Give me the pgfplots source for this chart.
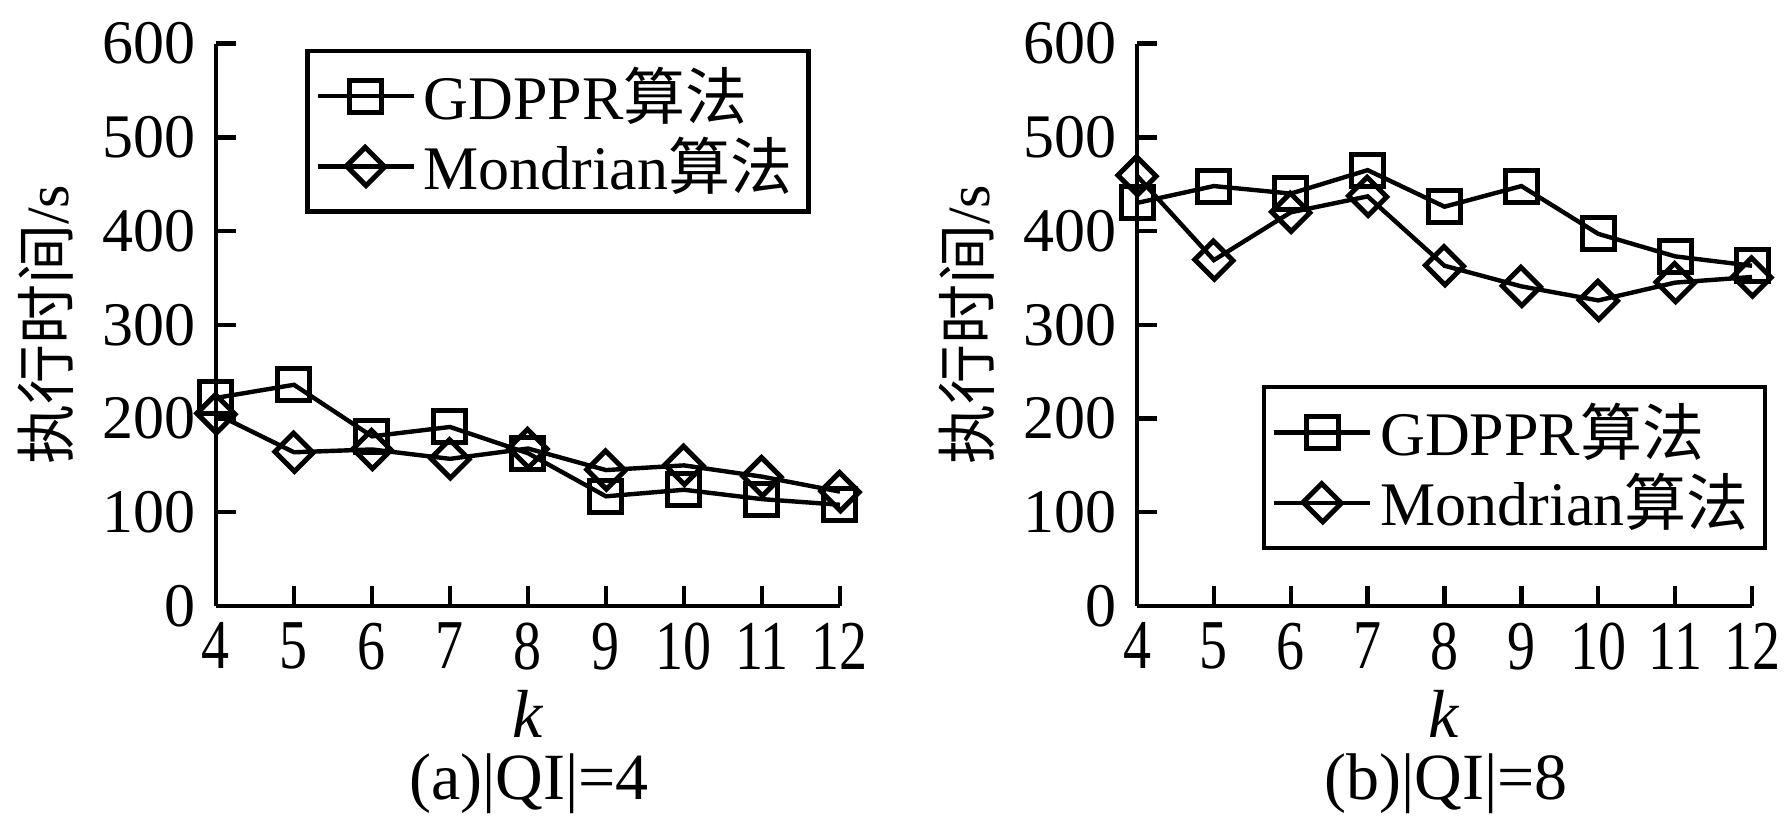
\documentclass[border=0pt]{standalone}
\usepackage{fontspec}
\setmainfont{Liberation Serif}
\newfontfamily\cjk{Noto Sans CJK SC}
\newfontfamily\xtickfont{Liberation Serif}[FakeStretch=0.8]
\usepackage{pgfplots}
\pgfplotsset{compat=1.18}
\pgfplotsset{
  myax/.style={
    scale only axis,
    width=#1,
    height=140.6pt,
    xmin=4, xmax=12, ymin=0, ymax=600,
    axis x line*=bottom, axis y line*=left,
    axis line style={line width=1.1pt,-},
    every tick/.style={line width=1.1pt,black},
    tick align=inside,
    major tick length=5pt,
    xtick={4,...,12},
    ytick={0,100,...,600},
    /pgf/number format/assume math mode=true,
    yticklabel style={font=\fontsize{15.5}{15.5}\selectfont, inner sep=1pt, xshift=-4pt},
    xticklabel style={font=\xtickfont\fontsize{17.5}{17.5}\selectfont, inner sep=2pt, yshift=-2pt},
    xlabel={\textit{k}},
    xlabel style={font=\fontsize{17}{17}\selectfont, at={(axis description cs:0.5,0)}, anchor=center, yshift=-27pt},
    ylabel={{\cjk 执行时间}/s},
    ylabel style={font=\fontsize{15}{15}\selectfont, at={(axis description cs:0,0.5)}, anchor=center, yshift=42.5pt},
    legend style={draw=black, line width=1.1pt, font=\fontsize{15.5}{15.5}\selectfont, inner xsep=2pt, inner ysep=2pt, row sep=-1pt, cells={anchor=west}},
    legend image code/.code={\draw[mark repeat=2,mark phase=2] plot coordinates {(0pt,0pt) (12pt,0pt) (24pt,0pt)};},
    clip=false,
  },
  sq/.style={black, line width=1.1pt, mark=square, mark size=4pt, mark options={line width=1.25pt, fill=none}},
  dm/.style={black, line width=1.1pt, mark=square, mark size=3.3pt, mark options={rotate=45, yscale=1.05, line width=1.25pt, fill=none}},
}
\begin{document}
\begin{tikzpicture}
\useasboundingbox (0,0) rectangle (446.75pt,205.75pt);
\begin{axis}[myax=156pt, at={(54pt,54.25pt)}, anchor=south west,
  legend style={at={(axis description cs:0.143,0.991)}, anchor=north west}]
\addplot[sq] coordinates {(4,222) (5,236) (6,181) (7,191) (8,163) (9,117) (10,124) (11,114) (12,108)};
\addlegendentry{GDPPR{\cjk 算法}}
\addplot[dm] coordinates {(4,205) (5,164) (6,167) (7,157) (8,168) (9,145) (10,150) (11,138) (12,122)};
\addlegendentry{Mondrian{\cjk 算法}}
\end{axis}
\begin{axis}[myax=153.75pt, at={(284.25pt,54.25pt)}, anchor=south west,
  legend style={at={(axis description cs:0.203,0.393)}, anchor=north west}]
\addplot[sq] coordinates {(4,430) (5,448) (6,440) (7,465) (8,426) (9,448) (10,397) (11,373) (12,363)};
\addlegendentry{GDPPR{\cjk 算法}}
\addplot[dm] coordinates {(4,459) (5,369) (6,420) (7,437) (8,363) (9,341) (10,326) (11,345) (12,351)};
\addlegendentry{Mondrian{\cjk 算法}}
\end{axis}
\node[font=\fontsize{16.5}{16.5}\selectfont] at (132.3pt,9.75pt) {(a)|QI|=4};
\node[font=\fontsize{16.5}{16.5}\selectfont] at (361.5pt,9.75pt) {(b)|QI|=8};
\end{tikzpicture}
\end{document}
